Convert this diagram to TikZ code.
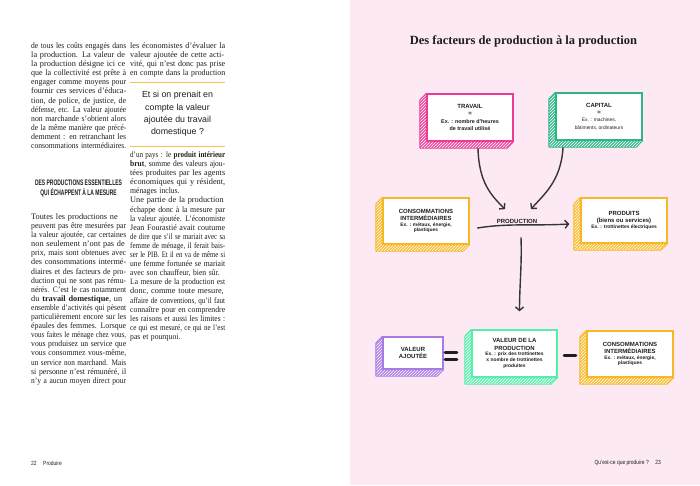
\documentclass[tikz,border=0pt]{standalone}
\usepackage{fontspec}
\setmainfont{Liberation Serif}
\setsansfont{Liberation Sans}
\usepackage{xcolor}
\usepackage{graphicx}
\definecolor{PagePink}{HTML}{FCE9F4}
\definecolor{InkGrey}{HTML}{1E1E1E}
\definecolor{TravPink}{HTML}{EC3D96}
\definecolor{CapGreen}{HTML}{2DB586}
\definecolor{ConsGold}{HTML}{F8B824}
\definecolor{VaPurple}{HTML}{A77AE4}
\definecolor{VpMint}{HTML}{55EFAA}
\definecolor{RuleGold}{HTML}{F5C54A}
\usetikzlibrary{arrows.meta, patterns, backgrounds}

\newlength\colw \setlength\colw{95pt}
\newsavebox\rowbox
\newcommand\jrow[1]{\sbox\rowbox{#1}\ifdim\wd\rowbox>\colw\resizebox{\colw}{\ht\rowbox}{\usebox\rowbox}\else\makebox[\colw][s]{#1}\fi\par}
\newcommand\lrow[1]{\sbox\rowbox{#1}\resizebox{0.92\wd\rowbox}{\ht\rowbox}{\usebox\rowbox}\par}
\newcommand\condensed[2]{\scalebox{#1}[1]{#2}}
\newcommand\bodyfont{\rmfamily\fontsize{8.3}{9.1}\selectfont}
\newcommand\boxfont{\sffamily\bfseries\fontsize{6}{7.2}\selectfont}
\newcommand\exfont{\fontsize{4.9}{6}\selectfont}
\newcommand\footfont{\sffamily\fontsize{6}{7}\selectfont}

\begin{document}
\begin{tikzpicture}[
    x=1pt, y=-1pt,
    coltext/.style={anchor=north west, inner sep=0pt, text width=\colw, text=InkGrey, font=\bodyfont},
    cube/.style={draw=#1, line width=1.3pt, fill=white, inner sep=1pt, align=center, text=InkGrey, font=\boxfont},
    depth_face/.style={draw=#1, line width=0.8pt, line join=round, preaction={fill=#1!90}, pattern=north east lines, pattern color=white},
    flow/.style={-{Straight Barb[length=3.5pt, width=8pt]}, draw=InkGrey!90, line width=1.4pt, line cap=round},
    sign/.style={InkGrey, line width=2.8pt, line cap=round},
    gold_rule/.style={RuleGold, line width=0.9pt},
    foot/.style={inner sep=0pt, text=InkGrey, font=\footfont}
]
    \useasboundingbox (0,0) rectangle (700,485);

    % 1. LEFT PAGE, FIRST COLUMN
    \node[coltext] (colA) at (31,42.5) {%
        \jrow{de tous les coûts engagés dans}
        \jrow{la production. La valeur de}
        \jrow{la production désigne ici ce}
        \jrow{que la collectivité est prête à}
        \jrow{engager comme moyens pour}
        \jrow{fournir ces services d'éduca-}
        \jrow{tion, de police, de justice, de}
        \jrow{défense, etc. La valeur ajoutée}
        \jrow{non marchande s'obtient alors}
        \jrow{de la même manière que précé-}
        \jrow{demment : en retranchant les}
        \jrow{consommations intermédiaires.}};

    \node[align=center, inner sep=0pt, text=InkGrey, font=\sffamily\bfseries\fontsize{8}{10}\selectfont] (colAhead) at (78.5,188)
        {\condensed{0.62}{DES PRODUCTIONS ESSENTIELLES}\\\condensed{0.62}{QUI ÉCHAPPENT À LA MESURE}};

    \node[coltext] (colAbody) at (31,213.5) {%
        \jrow{Toutes les productions ne}
        \jrow{peuvent pas être mesurées par}
        \jrow{la valeur ajoutée, car certaines}
        \jrow{non seulement n'ont pas de}
        \jrow{prix, mais sont obtenues avec}
        \jrow{des consommations intermé-}
        \jrow{diaires et des facteurs de pro-}
        \jrow{duction qui ne sont pas rému-}
        \jrow{nérés. C'est le cas notamment}
        \jrow{du \textbf{travail domestique}, un}
        \jrow{ensemble d'activités qui pèsent}
        \jrow{particulièrement encore sur les}
        \jrow{épaules des femmes. Lorsque}
        \jrow{vous faites le ménage chez vous,}
        \jrow{vous produisez un service que}
        \jrow{vous consommez vous-même,}
        \jrow{un service non marchand. Mais}
        \jrow{si personne n'est rémunéré, il}
        \jrow{n'y a aucun moyen direct pour}};

    % 2. LEFT PAGE, SECOND COLUMN
    \node[coltext] (colB) at (130,42.5) {%
        \jrow{les économistes d'évaluer la}
        \jrow{valeur ajoutée de cette acti-}
        \jrow{vité, qui n'est donc pas prise}
        \jrow{en compte dans la production}};

    \draw[gold_rule] (130,82) -- (225,82);
    \node[align=center, inner sep=0pt, text=InkGrey, font=\sffamily\fontsize{8.8}{12.2}\selectfont] (quote) at (177.5,114)
        {Et si on prenait en\\compte la valeur\\ajoutée du travail\\domestique ?};
    \draw[gold_rule] (130,146) -- (225,146);

    \node[coltext] (colBbody) at (130,151.5) {%
        \jrow{d'un pays : le \textbf{produit intérieur}}
        \jrow{\textbf{brut}, somme des valeurs ajou-}
        \jrow{tées produites par les agents}
        \jrow{économiques qui y résident,}
        \lrow{ménages inclus.}
        \jrow{Une partie de la production}
        \jrow{échappe donc à la mesure par}
        \jrow{la valeur ajoutée. L'économiste}
        \jrow{Jean Fourastié avait coutume}
        \jrow{de dire que s'il se mariait avec sa}
        \jrow{femme de ménage, il ferait bais-}
        \jrow{ser le PIB. Et il en va de même si}
        \jrow{une femme fortunée se mariait}
        \lrow{avec son chauffeur, bien sûr.}
        \jrow{La mesure de la production est}
        \jrow{donc, comme toute mesure,}
        \jrow{affaire de conventions, qu'il faut}
        \jrow{connaître pour en comprendre}
        \jrow{les raisons et aussi les limites :}
        \jrow{ce qui est mesuré, ce qui ne l'est}
        \lrow{pas et pourquoi.}};

    % 3. RIGHT PAGE, TITLE
    \node[inner sep=0pt, text=InkGrey, font=\rmfamily\bfseries\fontsize{12.5}{14}\selectfont] (title) at (523.5,41)
        {Des facteurs de production à la production};

    % 4. THE BOXES (front faces)
    \node[cube=TravPink, minimum width=86pt, minimum height=47pt] (travail) at (470,117.5)
        {TRAVAIL\\=\\{\fontsize{5.4}{6}\selectfont Ex. : nombre d'heures}\\{\fontsize{5.4}{6}\selectfont de travail utilisé}};
    \node[cube=CapGreen, minimum width=86pt, minimum height=47pt] (capital) at (599,116.5)
        {CAPITAL\\=\\{\exfont\mdseries Ex. : machines,}\\{\exfont\mdseries bâtiments, ordinateurs}};
    \node[cube=ConsGold, minimum width=86pt, minimum height=46pt] (consL) at (426,221)
        {CONSOMMATIONS\\INTERMÉDIAIRES\\[-1.5pt]{\exfont Ex. : métaux, énergie,}\\[-1.5pt]{\exfont plastiques}};
    \node[cube=ConsGold, minimum width=86pt, minimum height=45pt] (produits) at (624,220.5)
        {PRODUITS\\(biens ou services)\\[-1.5pt]{\exfont Ex. : trottinettes électriques}};
    \node[cube=VaPurple, minimum width=60pt, minimum height=32pt] (valajout) at (413,353)
        {VALEUR\\AJOUTÉE};
    \node[cube=VpMint, minimum width=85pt, minimum height=47pt] (valprod) at (514.5,353.5)
        {VALEUR DE LA\\PRODUCTION\\[-1.5pt]{\exfont Ex. : prix des trottinettes}\\[-1.5pt]{\exfont x nombre de trottinettes}\\[-1.5pt]{\exfont produites}};
    \node[cube=ConsGold, minimum width=86pt, minimum height=46pt] (consR) at (630,354)
        {CONSOMMATIONS\\INTERMÉDIAIRES\\[-1.5pt]{\exfont Ex. : métaux, énergie,}\\[-1.5pt]{\exfont plastiques}};

    \node[inner sep=1pt, text=InkGrey, font=\sffamily\bfseries\fontsize{6}{7}\selectfont] (production) at (517,221.5) {PRODUCTION};

    % 5. ARROWS INTO AND OUT OF PRODUCTION
    \draw[flow] ([xshift=8pt, yshift=-7pt]travail.south) .. controls +(1,34) and +(-14,-14) .. ([xshift=-12pt, yshift=9pt]production.north);
    \draw[flow] ([xshift=-36pt, yshift=-7pt]capital.south) .. controls +(-2,34) and +(12,-14) .. ([xshift=14pt, yshift=9pt]production.north);
    \draw[flow] ([xshift=8pt, yshift=-7pt]consL.east) .. controls +(30,-5) and +(-35,2) .. ([xshift=-11pt, yshift=-3.5pt]produits.west);
    \draw[flow] ([xshift=4pt, yshift=-13pt]production.south) .. controls +(1,25) and +(0,-25) .. ([xshift=5pt, yshift=18pt]valprod.north);

    % 6. EQUATION SIGNS
    \draw[sign] (445,352.5) -- (457,352.5);
    \draw[sign] (445,359.5) -- (457,359.5);
    \draw[sign] (564,355.5) -- (576,355.5);

    % 7. FOOTERS
    \node[foot, anchor=west] (pageL) at (31,463) {\condensed{0.82}{22\hspace{8pt}Produire}};
    \node[foot, anchor=east] (pageR) at (661,463) {\condensed{0.82}{Qu'est-ce que produire ?\hspace{8pt}23}};

    % 8. PAGES AND BOX DEPTH
    \begin{scope}[on background layer]
        \fill[white] (0,0) rectangle (350,485);
        \fill[PagePink] (350,0) rectangle (700,485);
        \foreach \n/\c in {travail/TravPink, capital/CapGreen, consL/ConsGold, produits/ConsGold, valajout/VaPurple, valprod/VpMint, consR/ConsGold} {
            \draw[depth_face=\c] (\n.north west) -- ++(-6.5,6.5) -- ([xshift=-6.5pt, yshift=-6.5pt]\n.south west)
                -- ([xshift=-6.5pt, yshift=-6.5pt]\n.south east) -- (\n.south east) -- (\n.south west) -- cycle;
        }
    \end{scope}
\end{tikzpicture}
\end{document}
